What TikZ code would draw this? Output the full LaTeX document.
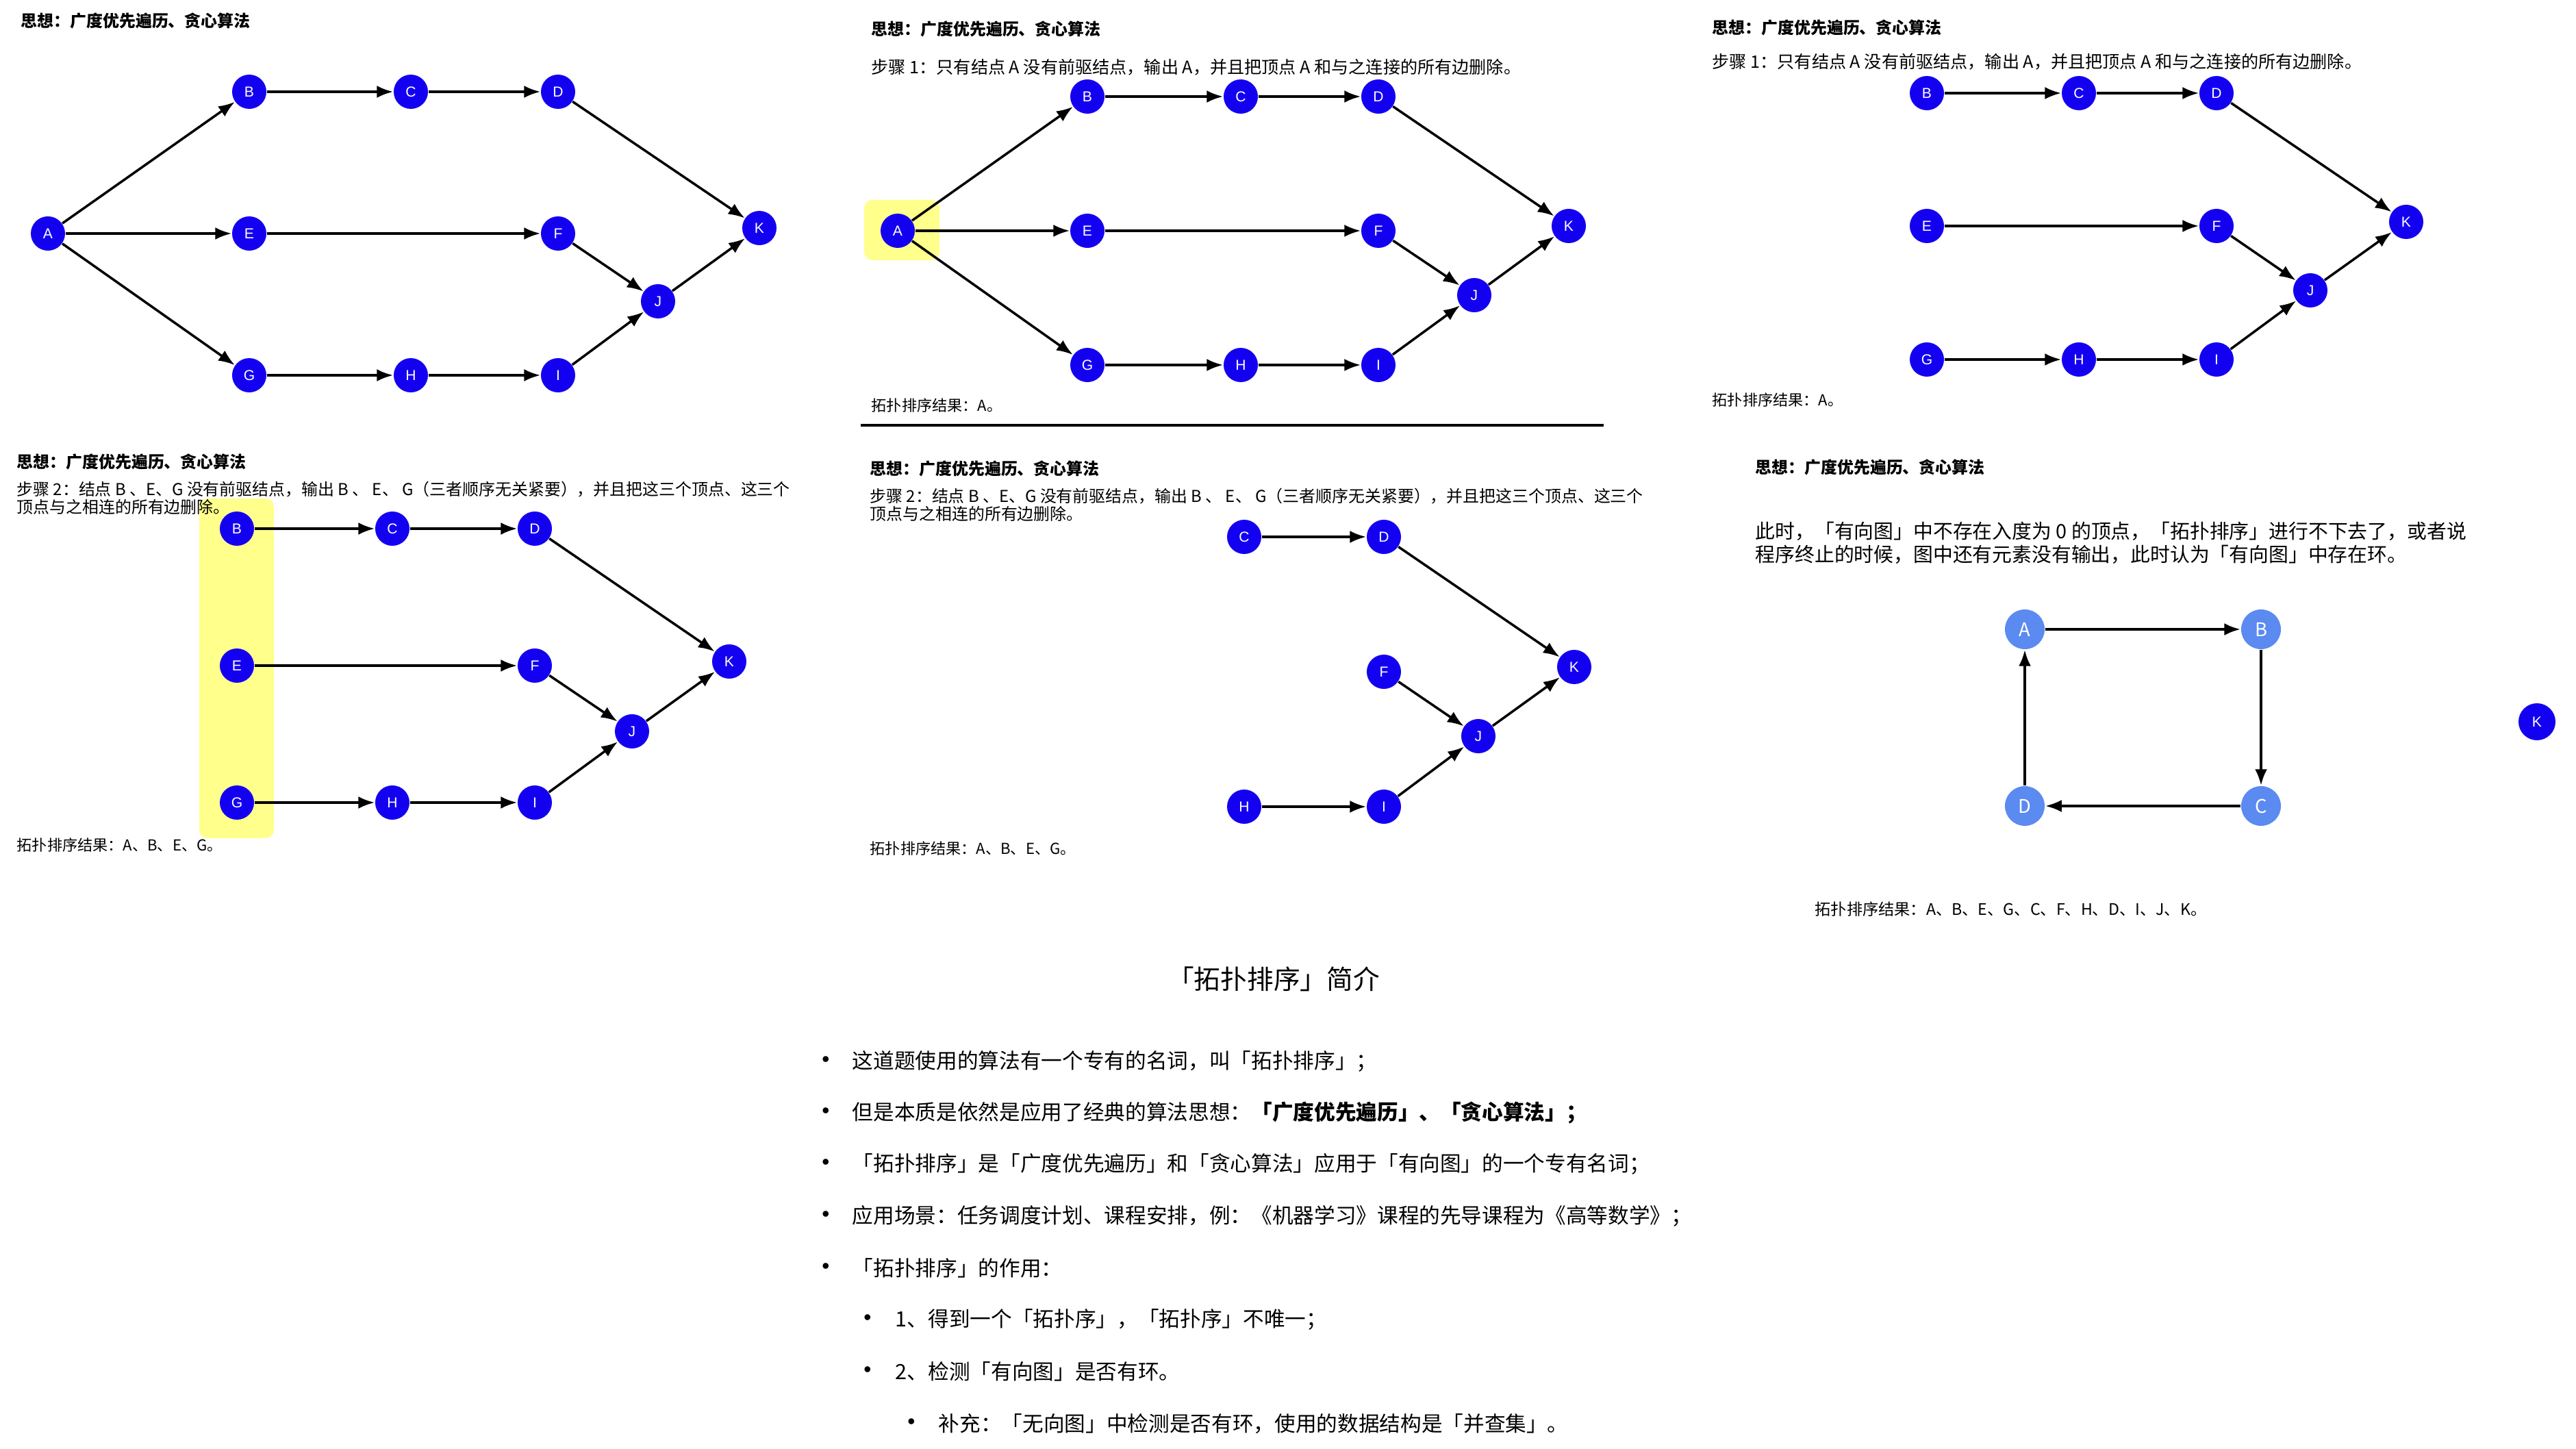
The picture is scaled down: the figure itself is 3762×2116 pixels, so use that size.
\documentclass[tikz,border=0pt]{standalone}
\usepackage{fontspec}
\usepackage{tikz}
\usetikzlibrary{arrows.meta}
\setmainfont{Noto Sans CJK SC}
\newfontfamily\lbl{Liberation Sans}
\definecolor{b1}{HTML}{1400F0}
\definecolor{b2}{HTML}{5B8AF0}
\definecolor{y1}{HTML}{FFFF8C}
\tikzset{
  vtx/.style={circle, fill=b1, text=white, minimum size=5mm, inner sep=0pt, font=\lbl\fontsize{6}{6}\selectfont},
  cyc/.style={circle, fill=b2, text=white, minimum size=5.8mm, inner sep=0pt, font=\fontsize{7.8}{8}\selectfont},
  arr/.style={-{Latex[length=2.4mm,width=1.8mm]}, line width=1pt},
  ttl/.style={anchor=west, inner sep=0pt, font=\bfseries\fontsize{6.8}{7}\selectfont},
  stp/.style={anchor=west, inner sep=0pt, align=left, font=\fontsize{7.15}{7.4}\selectfont},
  stq/.style={anchor=west, inner sep=0pt, align=left, font=\fontsize{6.8}{7.4}\selectfont},
  res/.style={anchor=west, inner sep=0pt, font=\fontsize{6.3}{6.5}\selectfont},
  li/.style={anchor=west, inner sep=0pt, font=\fontsize{8.72}{9}\selectfont},
  bul/.style={inner sep=0pt, font=\lbl\fontsize{9}{9}\selectfont},
}

\begin{document}
\begin{tikzpicture}[x=0.01cm, y=-0.01cm]
\useasboundingbox (0,0) rectangle (3762,2116);

\fill[y1, rounded corners=1.2mm] (1262,292) rectangle (1372,380);
\fill[y1, rounded corners=1.2mm] (291,728) rectangle (400,1224);

\node[ttl] (t1) at (30,30) {思想：广度优先遍历、贪心算法};
\node[vtx] (a1) at (70,341) {A};
\node[vtx] (b1) at (364,134) {B};
\node[vtx] (c1) at (600,134) {C};
\node[vtx] (d1) at (815,134) {D};
\node[vtx] (e1) at (364,341) {E};
\node[vtx] (f1) at (815,341) {F};
\node[vtx] (g1) at (364,548) {G};
\node[vtx] (h1) at (600,548) {H};
\node[vtx] (i1) at (815,548) {I};
\node[vtx] (j1) at (961,440) {J};
\node[vtx] (k1) at (1109,333) {K};
\draw[arr] (a1) -- (b1);
\draw[arr] (a1) -- (e1);
\draw[arr] (a1) -- (g1);
\draw[arr] (b1) -- (c1);
\draw[arr] (c1) -- (d1);
\draw[arr] (d1) -- (k1);
\draw[arr] (e1) -- (f1);
\draw[arr] (f1) -- (j1);
\draw[arr] (g1) -- (h1);
\draw[arr] (h1) -- (i1);
\draw[arr] (i1) -- (j1);
\draw[arr] (j1) -- (k1);

\node[ttl] (t2) at (1272,42) {思想：广度优先遍历、贪心算法};
\node[stp] (s2) at (1272,98) {步骤 1：只有结点 A 没有前驱结点，输出 A，并且把顶点 A 和与之连接的所有边删除。};
\node[vtx] (a2) at (1311,337) {A};
\node[vtx] (b2) at (1588,141) {B};
\node[vtx] (c2) at (1812,141) {C};
\node[vtx] (d2) at (2013,141) {D};
\node[vtx] (e2) at (1588,337) {E};
\node[vtx] (f2) at (2013,337) {F};
\node[vtx] (g2) at (1588,533) {G};
\node[vtx] (h2) at (1812,533) {H};
\node[vtx] (i2) at (2013,533) {I};
\node[vtx] (j2) at (2153,431) {J};
\node[vtx] (k2) at (2291,330) {K};
\draw[arr] (a2) -- (b2);
\draw[arr] (a2) -- (e2);
\draw[arr] (a2) -- (g2);
\draw[arr] (b2) -- (c2);
\draw[arr] (c2) -- (d2);
\draw[arr] (d2) -- (k2);
\draw[arr] (e2) -- (f2);
\draw[arr] (f2) -- (j2);
\draw[arr] (g2) -- (h2);
\draw[arr] (h2) -- (i2);
\draw[arr] (i2) -- (j2);
\draw[arr] (j2) -- (k2);
\node[res] (r2) at (1272,592) {拓扑排序结果：A。};
\draw[line width=1.1pt] (1257,621) -- (2342,621);

\node[ttl] (t3) at (2500,40) {思想：广度优先遍历、贪心算法};
\node[stp] (s3) at (2500,90) {步骤 1：只有结点 A 没有前驱结点，输出 A，并且把顶点 A 和与之连接的所有边删除。};
\node[vtx] (b3) at (2814,136) {B};
\node[vtx] (c3) at (3036,136) {C};
\node[vtx] (d3) at (3237,136) {D};
\node[vtx] (e3) at (2814,330) {E};
\node[vtx] (f3) at (3237,330) {F};
\node[vtx] (g3) at (2814,525) {G};
\node[vtx] (h3) at (3036,525) {H};
\node[vtx] (i3) at (3237,525) {I};
\node[vtx] (j3) at (3374,424) {J};
\node[vtx] (k3) at (3514,324) {K};
\draw[arr] (b3) -- (c3);
\draw[arr] (c3) -- (d3);
\draw[arr] (d3) -- (k3);
\draw[arr] (e3) -- (f3);
\draw[arr] (f3) -- (j3);
\draw[arr] (g3) -- (h3);
\draw[arr] (h3) -- (i3);
\draw[arr] (i3) -- (j3);
\draw[arr] (j3) -- (k3);
\node[res] (r3) at (2500,584) {拓扑排序结果：A。};

\node[ttl] (t4) at (24,674) {思想：广度优先遍历、贪心算法};
\node[stq] (s4) at (24,727) {步骤 2：结点 B 、E、G 没有前驱结点，输出 B 、 E、 G（三者顺序无关紧要），并且把这三个顶点、这三个\\顶点与之相连的所有边删除。};
\node[vtx] (b4) at (346,772) {B};
\node[vtx] (c4) at (573,772) {C};
\node[vtx] (d4) at (781,772) {D};
\node[vtx] (e4) at (346,972) {E};
\node[vtx] (f4) at (781,972) {F};
\node[vtx] (g4) at (346,1172) {G};
\node[vtx] (h4) at (573,1172) {H};
\node[vtx] (i4) at (781,1172) {I};
\node[vtx] (j4) at (923,1068) {J};
\node[vtx] (k4) at (1065,966) {K};
\draw[arr] (b4) -- (c4);
\draw[arr] (c4) -- (d4);
\draw[arr] (d4) -- (k4);
\draw[arr] (e4) -- (f4);
\draw[arr] (f4) -- (j4);
\draw[arr] (g4) -- (h4);
\draw[arr] (h4) -- (i4);
\draw[arr] (i4) -- (j4);
\draw[arr] (j4) -- (k4);
\node[res] (r4) at (24,1234) {拓扑排序结果：A、B、E、G。};

\node[ttl] (t5) at (1270,684) {思想：广度优先遍历、贪心算法};
\node[stq] (s5) at (1270,737) {步骤 2：结点 B 、E、G 没有前驱结点，输出 B 、 E、 G（三者顺序无关紧要），并且把这三个顶点、这三个\\顶点与之相连的所有边删除。};
\node[vtx] (c5) at (1817,784) {C};
\node[vtx] (d5) at (2021,784) {D};
\node[vtx] (f5) at (2021,981) {F};
\node[vtx] (h5) at (1817,1178) {H};
\node[vtx] (i5) at (2021,1178) {I};
\node[vtx] (j5) at (2159,1075) {J};
\node[vtx] (k5) at (2299,974) {K};
\draw[arr] (c5) -- (d5);
\draw[arr] (d5) -- (k5);
\draw[arr] (f5) -- (j5);
\draw[arr] (h5) -- (i5);
\draw[arr] (i5) -- (j5);
\draw[arr] (j5) -- (k5);
\node[res] (r5) at (1270,1239) {拓扑排序结果：A、B、E、G。};

\node[ttl] (t6) at (2563,682) {思想：广度优先遍历、贪心算法};
\node[stp, font=\fontsize{8.2}{9.7}\selectfont] (s6) at (2563,793) {此时，「有向图」中不存在入度为 0 的顶点，「拓扑排序」进行不下去了，或者说\\程序终止的时候，图中还有元素没有输出，此时认为「有向图」中存在环。};
\node[cyc] (a6) at (2957,919) {A};
\node[cyc] (b6) at (3302,919) {B};
\node[cyc] (c6) at (3302,1177) {C};
\node[cyc] (d6) at (2957,1177) {D};
\node[vtx, minimum size=5.4mm] (k6) at (3705,1054) {K};
\draw[arr, line width=1.2pt] (a6) -- (b6);
\draw[arr, line width=1.2pt] (b6) -- (c6);
\draw[arr, line width=1.2pt] (c6) -- (d6);
\draw[arr, line width=1.2pt] (d6) -- (a6);
\node[res, font=\fontsize{6.6}{6.8}\selectfont] (r6) at (2650,1328) {拓扑排序结果：A、B、E、G、C、F、H、D、I、J、K。};

\node[font=\fontsize{11}{11}\selectfont] (hd) at (1860,1430) {「拓扑排序」简介};
\node[bul] (u1) at (1206,1550) {•};
\node[li] (l1) at (1244,1550) {这道题使用的算法有一个专有的名词，叫「拓扑排序」；};
\node[bul] (u2) at (1206,1625) {•};
\node[li] (l2) at (1244,1625) {但是本质是依然是应用了经典的算法思想：{\bfseries「广度优先遍历」、「贪心算法」；}};
\node[bul] (u3) at (1206,1700) {•};
\node[li] (l3) at (1244,1700) {「拓扑排序」是「广度优先遍历」和「贪心算法」应用于「有向图」的一个专有名词；};
\node[bul] (u4) at (1206,1776) {•};
\node[li] (l4) at (1244,1776) {应用场景：任务调度计划、课程安排，例：《机器学习》课程的先导课程为《高等数学》；};
\node[bul] (u5) at (1206,1852) {•};
\node[li] (l5) at (1244,1852) {「拓扑排序」的作用：};
\node[bul] (u6) at (1267,1927) {•};
\node[li] (l6) at (1307,1927) {1、得到一个「拓扑序」，「拓扑序」不唯一；};
\node[bul] (u7) at (1267,2003) {•};
\node[li] (l7) at (1307,2003) {2、检测「有向图」是否有环。};
\node[bul] (u8) at (1331,2079) {•};
\node[li] (l8) at (1370,2079) {补充：「无向图」中检测是否有环，使用的数据结构是「并查集」。};
\end{tikzpicture}
\end{document}
